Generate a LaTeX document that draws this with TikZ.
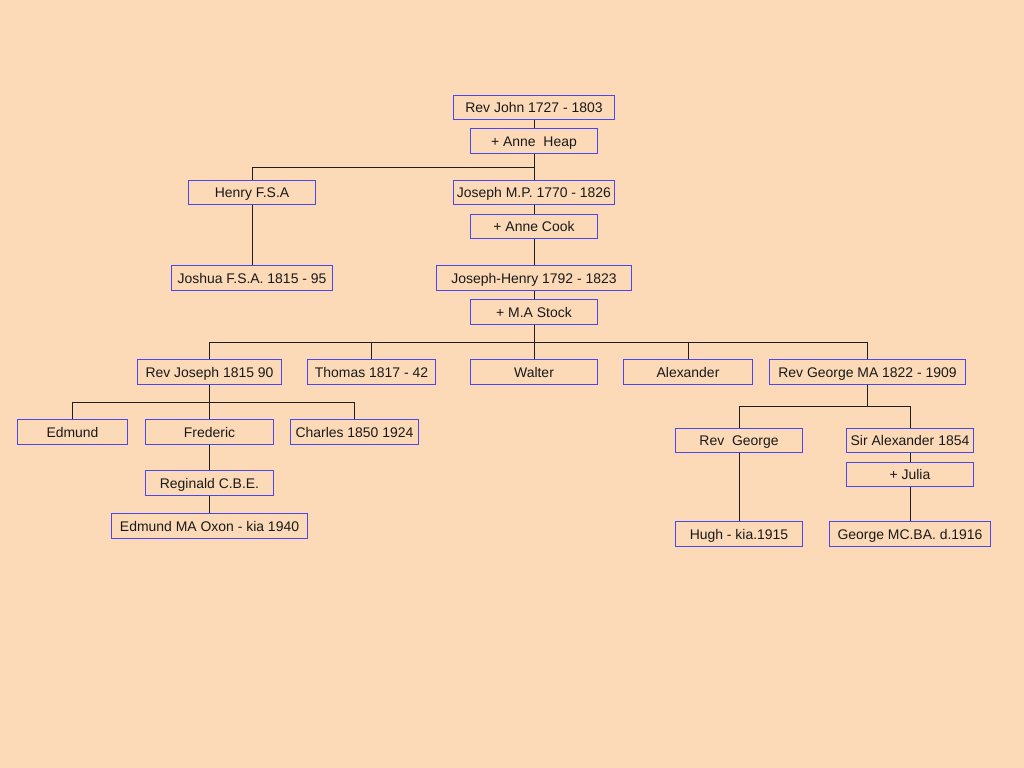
\documentclass[tikz,border=0pt]{standalone}
\usepackage{fontspec}
\setmainfont{Liberation Sans}
\definecolor{bgpeach}{RGB}{252,217,183}
\definecolor{boxblue}{RGB}{72,72,235}
\definecolor{txt}{RGB}{25,25,25}
\definecolor{linec}{RGB}{30,30,30}
\newcommand\famb[6]{%
  \node[box,minimum width={(#4-#2)*1bp},minimum height={(#5-#3)*1bp}]
    (#1) at ({(#2+#4)/2+0.5},{(#3+#5)/2+0.5}) {#6};}
\begin{document}
\begin{tikzpicture}[x=1bp,y=-1bp,
  box/.style={draw=boxblue,line width=1bp,fill=bgpeach,text=txt,inner sep=0pt,
    text height=10bp,text depth=0pt,font=\fontsize{14}{16}\selectfont},
  conn/.style={draw=linec,line width=1bp}]
\useasboundingbox (0,0) rectangle (1024,768);
\fill[bgpeach] (0,0) rectangle (1024,768);
\coordinate (b1) at (0,167.5);
\coordinate (b2) at (0,342.5);
\coordinate (b3) at (0,402.5);
\coordinate (b4) at (0,406.5);
% nodes
\famb{john}{453}{95}{614}{119}{Rev John 1727 - 1803}
\famb{heap}{470}{128}{597}{153}{+ Anne\ \ Heap}
\famb{henry}{188}{180}{315}{204}{Henry F.S.A}
\famb{jmp}{453}{180}{614}{204}{Joseph M.P. 1770 - 1826}
\famb{cook}{470}{214}{597}{238}{+ Anne Cook}
\famb{joshua}{171}{265}{332}{290}{Joshua F.S.A. 1815 - 95}
\famb{jh}{436}{265}{631}{290}{Joseph-Henry 1792 - 1823}
\famb{stock}{470}{299}{597}{324}{+ M.A Stock}
\famb{revjos}{137}{359}{281}{384}{Rev Joseph 1815 90}
\famb{thomas}{307}{359}{435}{384}{Thomas 1817 - 42}
\famb{walter}{470}{359}{597}{384}{Walter}
\famb{alex}{623}{359}{752}{384}{Alexander}
\famb{revgma}{769}{359}{965}{384}{Rev George MA 1822 - 1909}
\famb{edmund}{17}{419}{127}{444}{Edmund}
\famb{fred}{145}{419}{273}{444}{Frederic}
\famb{charles}{290}{419}{418}{444}{Charles 1850 1924}
\famb{reg}{145}{470}{273}{495}{Reginald C.B.E.}
\famb{oxon}{111}{513}{307}{538}{Edmund MA Oxon - kia 1940}
\famb{revg}{675}{428}{802}{452}{Rev\ \ George}
\famb{sira}{846}{428}{973}{452}{Sir Alexander 1854}
\famb{julia}{846}{462}{973}{486}{+ Julia}
\famb{hugh}{675}{521}{802}{546}{Hugh - kia.1915}
\famb{gmc}{829}{521}{990}{546}{George MC.BA. d.1916}
% connectors
\draw[conn] (john.south) -- (heap.north);
\draw[conn] (heap.south) -- (jmp.north);
\draw[conn] (henry.north) |- (heap.south |- b1);
\draw[conn] (henry.south) -- (joshua.north);
\draw[conn] (jmp.south) -- (cook.north);
\draw[conn] (cook.south) -- (jh.north);
\draw[conn] (jh.south) -- (stock.north);
\draw[conn] (stock.south) -- (walter.north);
\draw[conn] (revjos.north) |- (revgma.north |- b2) -- (revgma.north);
\draw[conn] (thomas.north) -- (thomas.north |- b2);
\draw[conn] (alex.north) -- (alex.north |- b2);
\draw[conn] (revjos.south) -- (fred.north);
\draw[conn] (edmund.north) |- (charles.north |- b3) -- (charles.north);
\draw[conn] (fred.south) -- (reg.north);
\draw[conn] (reg.south) -- (oxon.north);
\draw[conn] (revgma.south) -- (revgma.south |- b4);
\draw[conn] (revg.north) |- (sira.north |- b4) -- (sira.north);
\draw[conn] (revg.south) -- (hugh.north);
\draw[conn] (sira.south) -- (julia.north);
\draw[conn] (julia.south) -- (gmc.north);
\end{tikzpicture}
\end{document}
